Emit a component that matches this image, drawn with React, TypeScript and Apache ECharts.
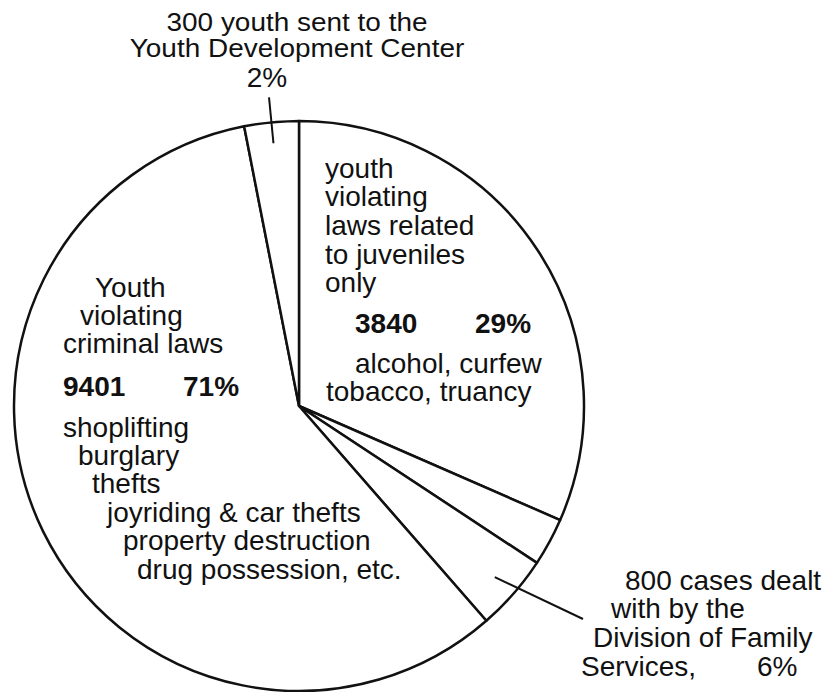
import React, { useEffect, useRef } from "react";
import * as echarts from "echarts";

// Slices drawn clockwise from 12 o'clock, sizes (degrees of arc)
const sliceNames = [
  "Youth violating laws related to juveniles only",
  "Unlabelled",
  "Division of Family Services",
  "Youth violating criminal laws",
  "Youth Development Center",
];
const sliceDegrees = [113.6, 9.8, 15.5, 210.0, 11.1];

// Counts and percentages printed on the chart
const juvenileCount = 3840;
const juvenilePct = 29;
const criminalCount = 9401;
const criminalPct = 71;
const ydcCount = 300;
const ydcPct = 2;
const dfsCount = 800;
const dfsPct = 6;

// Label texts
const ydcLines = [`${ydcCount} youth sent to the`, "Youth Development Center", `${ydcPct}%`];
const juvenileLines = ["youth", "violating", "laws related", "to juveniles", "only"];
const juvenileExamples = ["alcohol, curfew", "tobacco, truancy"];
const criminalLines = ["Youth", "violating", "criminal laws"];
const criminalExamples = [
  "shoplifting",
  "burglary",
  "thefts",
  "joyriding & car thefts",
  "property destruction",
  "drug possession, etc.",
];
const dfsLines = [`${dfsCount} cases dealt`, "with by the", "Division of Family", "Services,"];

const W = 833;
const H = 692;
const CX = 299;
const CY = 406;
const R = 285;
const FS = 28;
const INK = "#111";

function font(size: number, bold?: boolean) {
  return `${bold ? "bold " : ""}${size}px "Liberation Sans", Arial, sans-serif`;
}

function txt(
  text: string,
  x: number,
  baseline: number,
  opts: { bold?: boolean; align?: string; size?: number; scaleX?: number } = {}
) {
  const align = opts.align || "left";
  const size = opts.size || FS;
  return {
    type: "text",
    z: 10,
    x,
    y: baseline - size * 0.35,
    scaleX: opts.scaleX || 1,
    silent: true,
    style: {
      text,
      font: font(size, opts.bold),
      fill: INK,
      align,
      textAlign: align,
      verticalAlign: "middle",
      textVerticalAlign: "middle",
    },
  };
}

function polar(angleDeg: number, r: number): [number, number] {
  const a = (angleDeg * Math.PI) / 180;
  return [CX + r * Math.sin(a), CY - r * Math.cos(a)];
}

export default function App() {
  const ref = useRef<HTMLDivElement>(null);

  useEffect(() => {
    if (!ref.current) return;
    const chart = echarts.init(ref.current, undefined, { renderer: "svg", width: W, height: H });

    const total = sliceDegrees.reduce((s, v) => s + v, 0);
    const starts: number[] = [];
    let acc = 0;
    sliceDegrees.forEach((v) => {
      starts.push(acc);
      acc += (v / total) * 360;
    });
    const mid = (i: number) => starts[i] + ((sliceDegrees[i] / total) * 360) / 2;

    const ydcA = polar(mid(4), 264);
    const ydcB = polar(mid(4), 310);
    const dfsA = polar(mid(2), 260);

    const graphics: any[] = [];
    // Top label (YDC)
    graphics.push(txt(ydcLines[0], 297, 31, { align: "center", size: 26, scaleX: 1.075 }));
    graphics.push(txt(ydcLines[1], 297, 57, { align: "center", size: 26, scaleX: 1.075 }));
    graphics.push(txt(ydcLines[2], 267, 87, { align: "center" }));
    graphics.push({
      type: "line",
      z: 10,
      silent: true,
      shape: { x1: ydcB[0], y1: ydcB[1], x2: ydcA[0], y2: ydcA[1] },
      style: { stroke: INK, lineWidth: 2 },
    });

    // Juvenile-only slice
    const jb = [178, 206, 235, 264, 292];
    juvenileLines.forEach((l, i) => graphics.push(txt(l, 325, jb[i])));
    graphics.push(txt(String(juvenileCount), 355, 333, { bold: true }));
    graphics.push(txt(`${juvenilePct}%`, 475, 333, { bold: true }));
    graphics.push(txt(juvenileExamples[0], 355, 373));
    graphics.push(txt(juvenileExamples[1], 326, 401));

    // Criminal slice
    const cb = [297, 325, 353];
    const cx = [95, 80, 63];
    criminalLines.forEach((l, i) => graphics.push(txt(l, cx[i], cb[i])));
    graphics.push(txt(String(criminalCount), 63, 396, { bold: true }));
    graphics.push(txt(`${criminalPct}%`, 183, 396, { bold: true }));
    const eb = [437, 465, 493, 522, 550, 579];
    const ex = [63, 78, 92, 107, 123, 137];
    criminalExamples.forEach((l, i) => graphics.push(txt(l, ex[i], eb[i])));

    // DFS label
    const db = [590, 618, 647, 676];
    const dx = [625, 611, 593, 581];
    dfsLines.forEach((l, i) => graphics.push(txt(l, dx[i], db[i])));
    graphics.push(txt(`${dfsPct}%`, 757, 676));
    graphics.push({
      type: "line",
      z: 10,
      silent: true,
      shape: { x1: dfsA[0], y1: dfsA[1], x2: 583, y2: 619 },
      style: { stroke: INK, lineWidth: 2 },
    });

    chart.setOption({
      animation: false,
      backgroundColor: "#fff",
      series: [
        {
          type: "pie",
          center: [CX, CY],
          radius: R,
          startAngle: 90,
          clockwise: true,
          silent: true,
          avoidLabelOverlap: false,
          label: { show: false },
          labelLine: { show: false },
          emphasis: { disabled: true },
          itemStyle: { color: "#fff", borderColor: INK, borderWidth: 2.5 },
          data: sliceNames.map((n, i) => ({ name: n, value: sliceDegrees[i] })),
        },
      ],
      graphic: graphics,
    });

    return () => chart.dispose();
  }, []);

  return (
    <div
      ref={ref}
      style={{ position: "absolute", left: 0, top: 0, width: W, height: H, background: "#fff" }}
    />
  );
}
